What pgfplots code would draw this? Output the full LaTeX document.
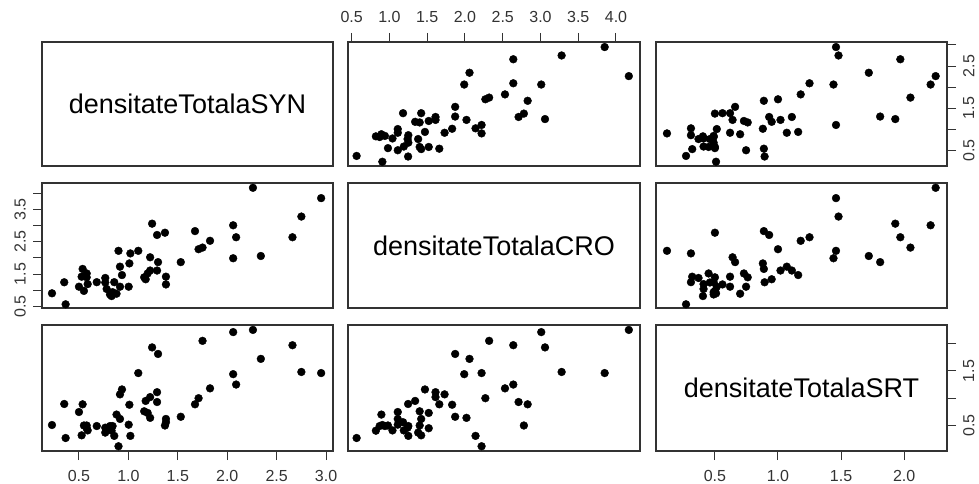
\documentclass[border=0pt]{standalone}
\usepackage{pgfplots}
\usepackage{pgfplotstable}
\usepackage{fontspec}
\setmainfont{Liberation Sans}
\pgfplotsset{compat=1.18}
\pgfplotstableread{
syn cro srt
0.227 0.906 0.509
0.351 1.247 0.894
0.365 0.565 0.271
0.500 1.110 0.747
0.527 1.420 0.320
0.537 1.660 0.888
0.550 0.980 0.500
0.578 1.520 0.450
0.578 1.400 0.500
0.588 1.190 0.410
0.680 1.250 0.490
0.766 1.240 0.460
0.766 1.380 0.370
0.780 1.040 0.410
0.814 0.870 0.490
0.840 0.940 0.490
0.830 0.820 0.405
0.857 1.250 0.310
0.880 0.893 0.700
0.900 2.220 0.120
0.915 1.730 1.070
0.915 1.110 0.620
0.935 1.470 1.160
1.003 1.110 0.515
1.010 1.830 0.880
1.020 2.140 0.310
1.100 2.220 1.460
1.160 1.400 0.760
1.175 1.340 0.950
1.195 1.520 0.730
1.220 2.020 0.640
1.220 1.610 1.020
1.240 3.060 1.930
1.290 1.610 1.110
1.290 2.710 0.930
1.300 1.870 1.810
1.370 2.780 0.500
1.380 1.420 0.620
1.380 1.180 0.560
1.530 1.870 0.660
1.674 2.830 0.888
1.710 2.270 1.000
1.750 2.320 2.050
1.826 2.530 1.180
2.060 3.010 2.210
2.060 1.990 1.440
2.090 2.640 1.250
2.260 4.170 2.250
2.340 2.060 1.720
2.660 2.640 1.970
2.750 3.280 1.480
2.950 3.850 1.460
}\data
\tikzset{diag/.style={font=\fontsize{27}{27}\selectfont}}
\pgfplotsset{
  pbase/.style={scale only axis, anchor=south west, clip=false,
    axis line style={black!80, line width=1.2pt},
    tick align=outside, major tick length=9pt,
    tick style={black!80, line width=1pt},
    xtick=\empty, ytick=\empty,
    tick label style={font=\fontsize{16}{16}\selectfont, text=black!80, inner sep=0pt},
    /pgf/number format/assume math mode=true},
  cA/.style={xmin=0.126, xmax=3.07, width=291pt},
  cB/.style={xmin=0.451, xmax=4.318, width=292pt},
  cC/.style={xmin=0.033, xmax=2.34, width=291pt},
  rA/.style={ymin=0.126, ymax=3.07, height=124pt},
  rB/.style={ymin=0.451, ymax=4.318, height=125pt},
  rC/.style={ymin=0.033, ymax=2.34, height=126pt},
  dots/.style={only marks, mark=*, mark size=3.9pt, mark options={black, fill=black}},
}
\begin{document}
\begin{tikzpicture}
% row 1
\begin{axis}[pbase, cA, rA, at={(42pt,317pt)}]
\node[diag] at (rel axis cs:0.5,0.5) {densitateTotalaSYN};
\end{axis}
\begin{axis}[pbase, cB, rA, at={(348pt,317pt)},
  xtick={0.5,1,1.5,2,2.5,3,3.5,4}, xticklabels={0.5,1.0,1.5,2.0,2.5,3.0,3.5,4.0},
  xtick pos=upper, xticklabel pos=upper, xticklabel shift=10pt]
\addplot[dots] table[x=cro, y=syn] {\data};
\end{axis}
\begin{axis}[pbase, cC, rA, at={(656pt,317pt)},
  ytick={0.5,1,1.5,2,2.5,3}, yticklabels={0.5,,1.5,,2.5,},
  ytick pos=right, yticklabel pos=right, yticklabel shift=7pt,
  yticklabel style={rotate=90, anchor=north}]
\addplot[dots] table[x=srt, y=syn] {\data};
\end{axis}
% row 2
\begin{axis}[pbase, cA, rB, at={(42pt,175pt)},
  ytick={0.5,1,1.5,2,2.5,3,3.5,4}, yticklabels={0.5,,1.5,,2.5,,3.5,},
  ytick pos=left, yticklabel pos=left, yticklabel shift=7pt,
  yticklabel style={rotate=90, anchor=south}]
\addplot[dots] table[x=syn, y=cro] {\data};
\end{axis}
\begin{axis}[pbase, cB, rB, at={(348pt,175pt)}]
\node[diag] at (rel axis cs:0.5,0.5) {densitateTotalaCRO};
\end{axis}
\begin{axis}[pbase, cC, rB, at={(656pt,175pt)}]
\addplot[dots] table[x=srt, y=cro] {\data};
\end{axis}
% row 3
\begin{axis}[pbase, cA, rC, at={(42pt,32pt)},
  xtick={0.5,1,1.5,2,2.5,3}, xticklabels={0.5,1.0,1.5,2.0,2.5,3.0},
  xtick pos=lower, xticklabel pos=lower, xticklabel shift=10pt]
\addplot[dots] table[x=syn, y=srt] {\data};
\end{axis}
\begin{axis}[pbase, cB, rC, at={(348pt,32pt)}]
\addplot[dots] table[x=cro, y=srt] {\data};
\end{axis}
\begin{axis}[pbase, cC, rC, at={(656pt,32pt)},
  xtick={0.5,1,1.5,2}, xticklabels={0.5,1.0,1.5,2.0},
  xtick pos=lower, xticklabel pos=lower, xticklabel shift=10pt,
  ytick={0.5,1,1.5,2}, yticklabels={0.5,,1.5,},
  ytick pos=right, yticklabel pos=right, yticklabel shift=7pt,
  yticklabel style={rotate=90, anchor=north}]
\node[diag] at (rel axis cs:0.5,0.5) {densitateTotalaSRT};
\end{axis}
\pgfresetboundingbox
\path (0pt,0pt) rectangle (979pt,483pt);
\end{tikzpicture}
\end{document}
